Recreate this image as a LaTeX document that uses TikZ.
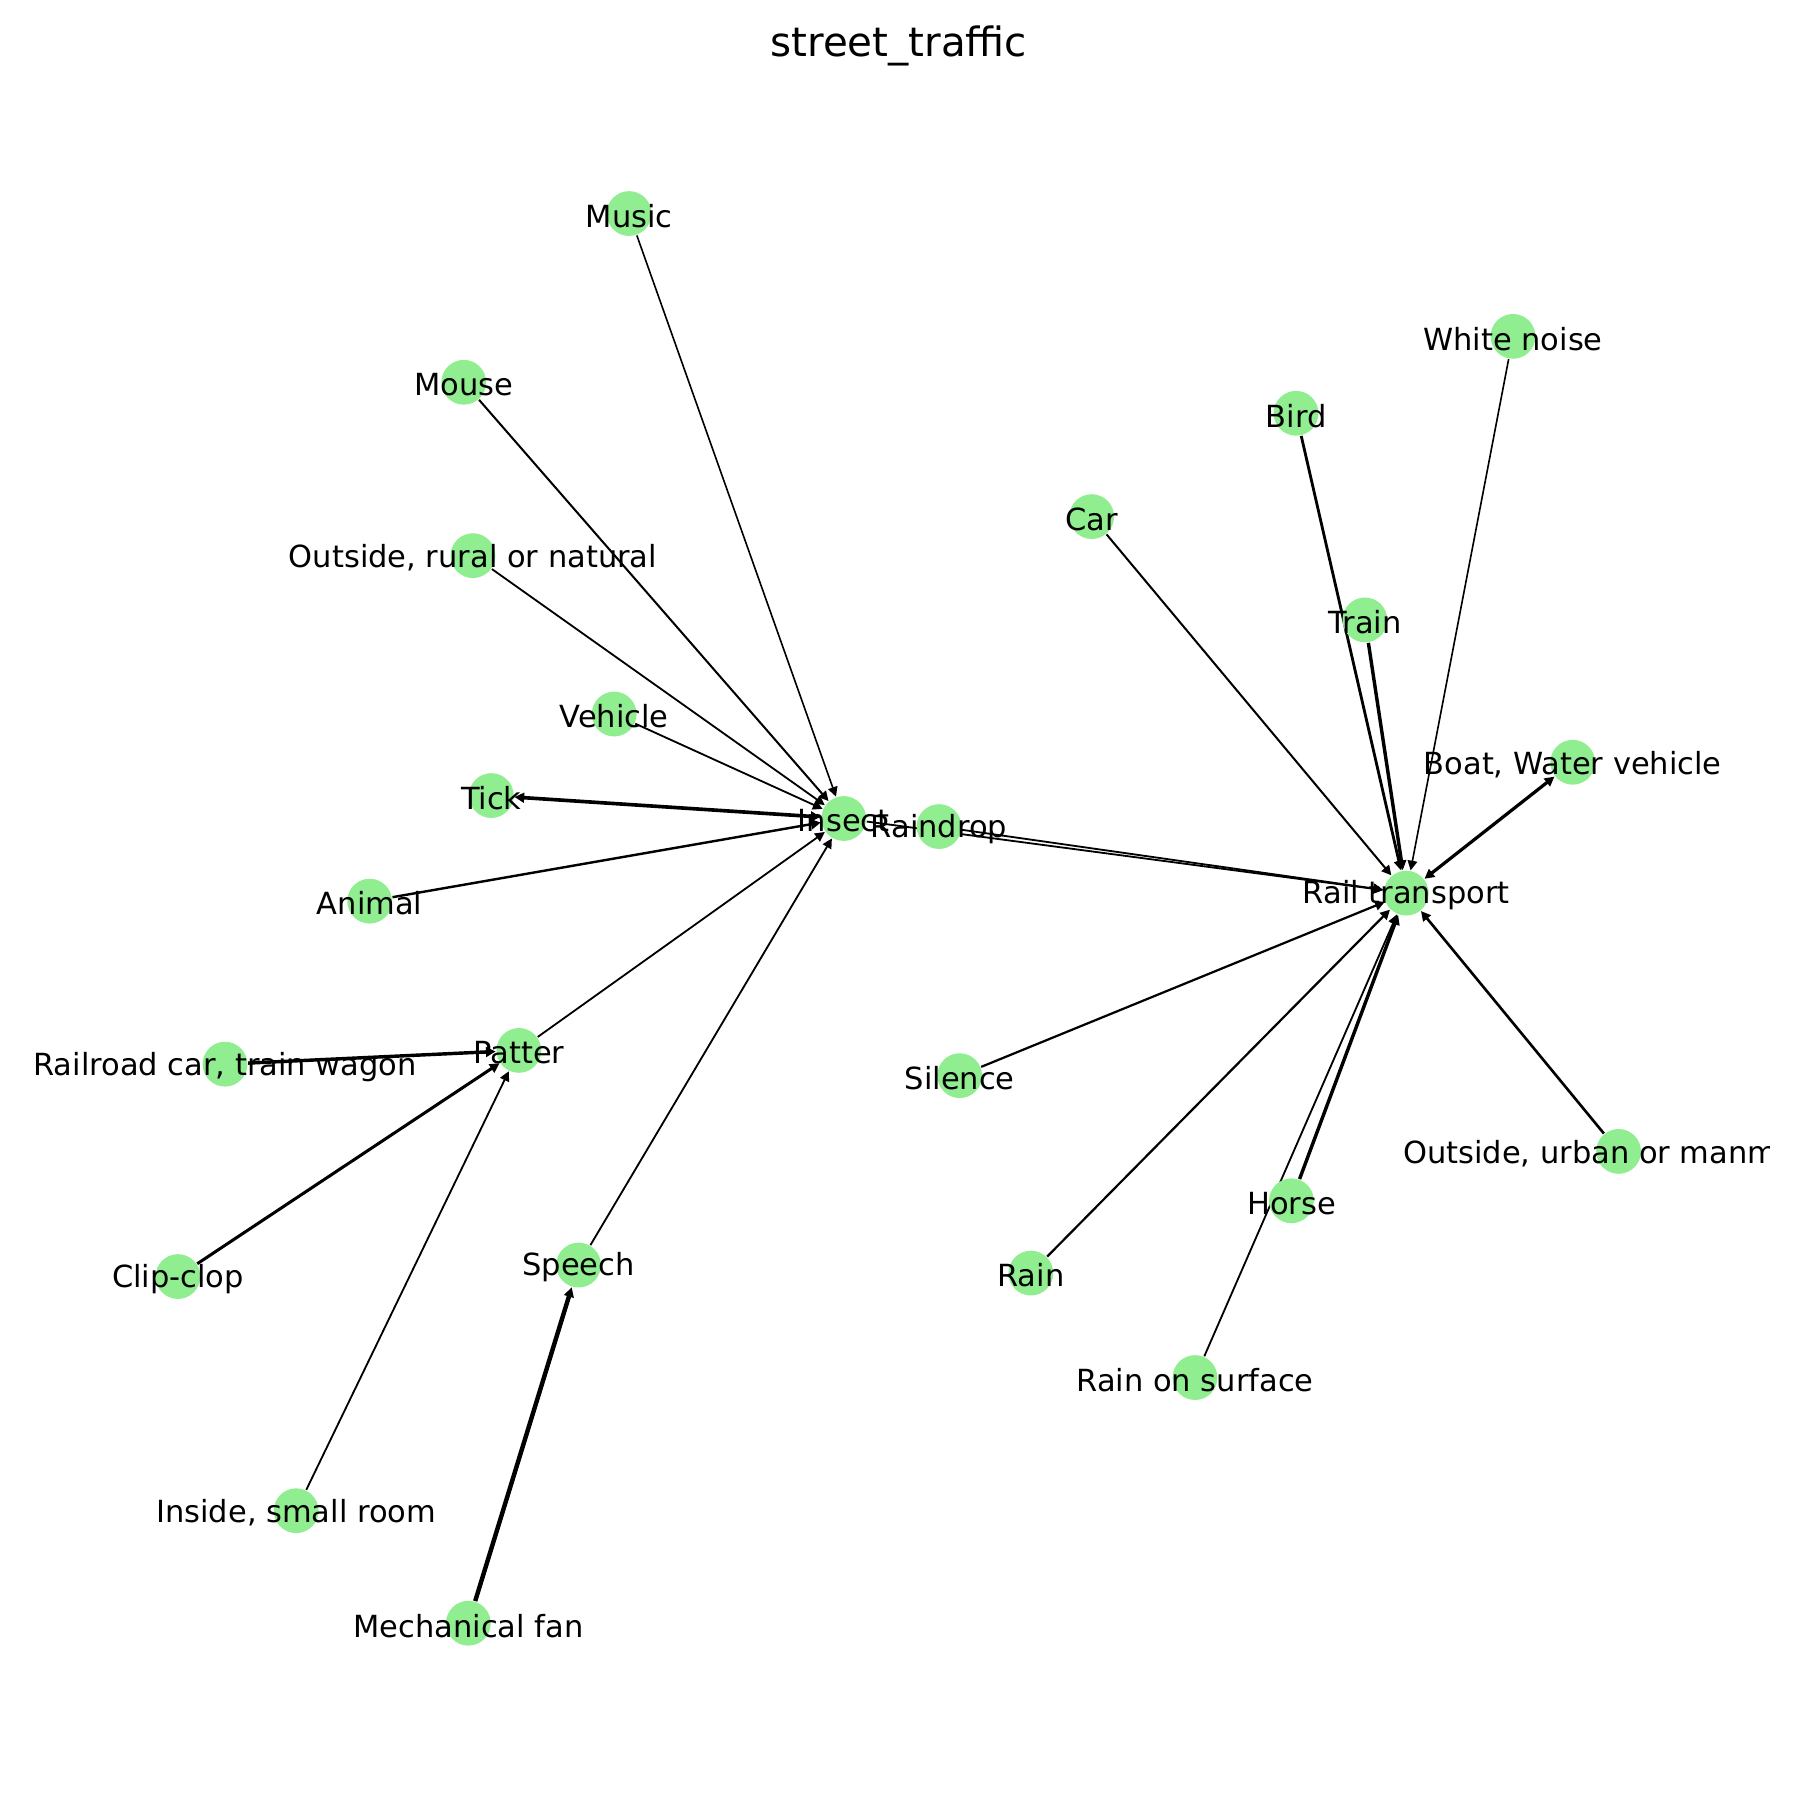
\documentclass[tikz,border=0pt]{standalone}
\usepackage{fontspec}
\setmainfont{DejaVu Sans}
\usepackage{xcolor}
\usetikzlibrary{arrows.meta}
\definecolor{nodegreen}{HTML}{90EE90}
\pgfdeclarelayer{background}
\pgfsetlayers{background,main}
\tikzset{
  vertex/.style={circle,fill=nodegreen,minimum size=0.39cm,inner sep=0pt},
  vlabel/.style={font=\fontsize{7.55}{9}\selectfont,inner sep=0pt,yshift=-0.6pt},
  link/.style={-{Triangle[length=2.4pt,width=2.4pt]},line width=#1},
  link/.default=0.45pt,
  bilink/.style={{Triangle[length=2.4pt,width=2.4pt]}-{Triangle[length=2.4pt,width=2.4pt]},line width=#1},
}

\begin{document}
\begin{tikzpicture}[x=0.01cm,y=-0.01cm]
  \useasboundingbox (0,0) rectangle (1568,1568);
  \node[font=\fontsize{10}{12}\selectfont] (title) at (783,40) {street\_traffic};

  % hubs
  \node[vertex] (insect) at (735,713) {};
  \node[vertex] (rail)   at (1225,778) {};
  \node[vertex] (patter) at (452,915) {};
  \node[vertex] (speech) at (504,1102) {};

  % left group
  \node[vertex] (music)   at (548,186) {};
  \node[vertex] (mouse)   at (404,333) {};
  \node[vertex] (rural)   at (412,484) {};
  \node[vertex] (vehicle) at (535,622) {};
  \node[vertex] (tick)    at (428,693) {};
  \node[vertex] (animal)  at (322,785) {};
  \node[vertex] (wagon)   at (196,927) {};
  \node[vertex] (clip)    at (155,1112) {};
  \node[vertex] (room)    at (258,1316) {};
  \node[vertex] (fan)     at (408,1414) {};

  % right group
  \node[vertex] (raindrop) at (818,720) {};
  \node[vertex] (car)      at (951,450) {};
  \node[vertex] (bird)     at (1129,360) {};
  \node[vertex] (train)    at (1189,540) {};
  \node[vertex] (noise)    at (1318,293) {};
  \node[vertex] (boat)     at (1370,664) {};
  \node[vertex] (silence)  at (836,937) {};
  \node[vertex] (rain)     at (898,1109) {};
  \node[vertex] (surface)  at (1041,1200) {};
  \node[vertex] (horse)    at (1125,1046) {};
  \node[vertex] (urban)    at (1410,1003) {};

  \begin{pgfonlayer}{background}
    \draw[link=0.4pt]  (music) -- (insect);
    \draw[link=0.5pt]  (mouse) -- (insect);
    \draw[link]        (rural) -- (insect);
    \draw[link]        (vehicle) -- (insect);
    \draw[bilink=0.9pt] (tick) -- (insect);
    \draw[link=0.6pt]  (animal) -- (insect);
    \draw[link]        (patter) -- (insect);
    \draw[link]        (speech) -- (insect);
    \draw[link]        (insect) -- (rail);
    \draw[link]        (raindrop) -- (rail);
    \draw[link=0.5pt]  (car) -- (rail);
    \draw[link=0.7pt]  (bird) -- (rail);
    \draw[link=0.85pt] (train) -- (rail);
    \draw[link=0.4pt]  (noise) -- (rail);
    \draw[bilink=0.8pt] (rail) -- (boat);
    \draw[link=0.55pt] (silence) -- (rail);
    \draw[link=0.55pt] (rain) -- (rail);
    \draw[link=0.85pt] (horse) -- (rail);
    \draw[link]        (surface) -- (rail);
    \draw[link=0.65pt] (urban) -- (rail);
    \draw[link=0.85pt] (wagon) -- (patter);
    \draw[link=0.75pt] (clip) -- (patter);
    \draw[link]        (room) -- (patter);
    \draw[link=1.1pt]  (fan) -- (speech);
  \end{pgfonlayer}

  % labels on top, cut at the plot edge
  \begin{scope}
    \clip (0,0) rectangle (1541,1568);
    \node[vlabel] (insect-l)   at (insect)   {Insect};
    \node[vlabel] (rail-l)     at (rail)     {Rail transport};
    \node[vlabel] (patter-l)   at (patter)   {Patter};
    \node[vlabel] (speech-l)   at (speech)   {Speech};
    \node[vlabel] (music-l)    at (music)    {Music};
    \node[vlabel] (mouse-l)    at (mouse)    {Mouse};
    \node[vlabel] (rural-l)    at (rural)    {Outside, rural or natural};
    \node[vlabel] (vehicle-l)  at (vehicle)  {Vehicle};
    \node[vlabel] (tick-l)     at (tick)     {Tick};
    \node[vlabel] (animal-l)   at (animal)   {Animal};
    \node[vlabel] (wagon-l)    at (wagon)    {Railroad car, train wagon};
    \node[vlabel] (clip-l)     at (clip)     {Clip-clop};
    \node[vlabel] (room-l)     at (room)     {Inside, small room};
    \node[vlabel] (fan-l)      at (fan)      {Mechanical fan};
    \node[vlabel] (raindrop-l) at (raindrop) {Raindrop};
    \node[vlabel] (car-l)      at (car)      {Car};
    \node[vlabel] (bird-l)     at (bird)     {Bird};
    \node[vlabel] (train-l)    at (train)    {Train};
    \node[vlabel] (noise-l)    at (noise)    {White noise};
    \node[vlabel] (boat-l)     at (boat)     {Boat, Water vehicle};
    \node[vlabel] (silence-l)  at (silence)  {Silence};
    \node[vlabel] (rain-l)     at (rain)     {Rain};
    \node[vlabel] (surface-l)  at (surface)  {Rain on surface};
    \node[vlabel] (horse-l)    at (horse)    {Horse};
    \node[vlabel] (urban-l)    at (urban)    {Outside, urban or manmade};
  \end{scope}
\end{tikzpicture}
\end{document}
